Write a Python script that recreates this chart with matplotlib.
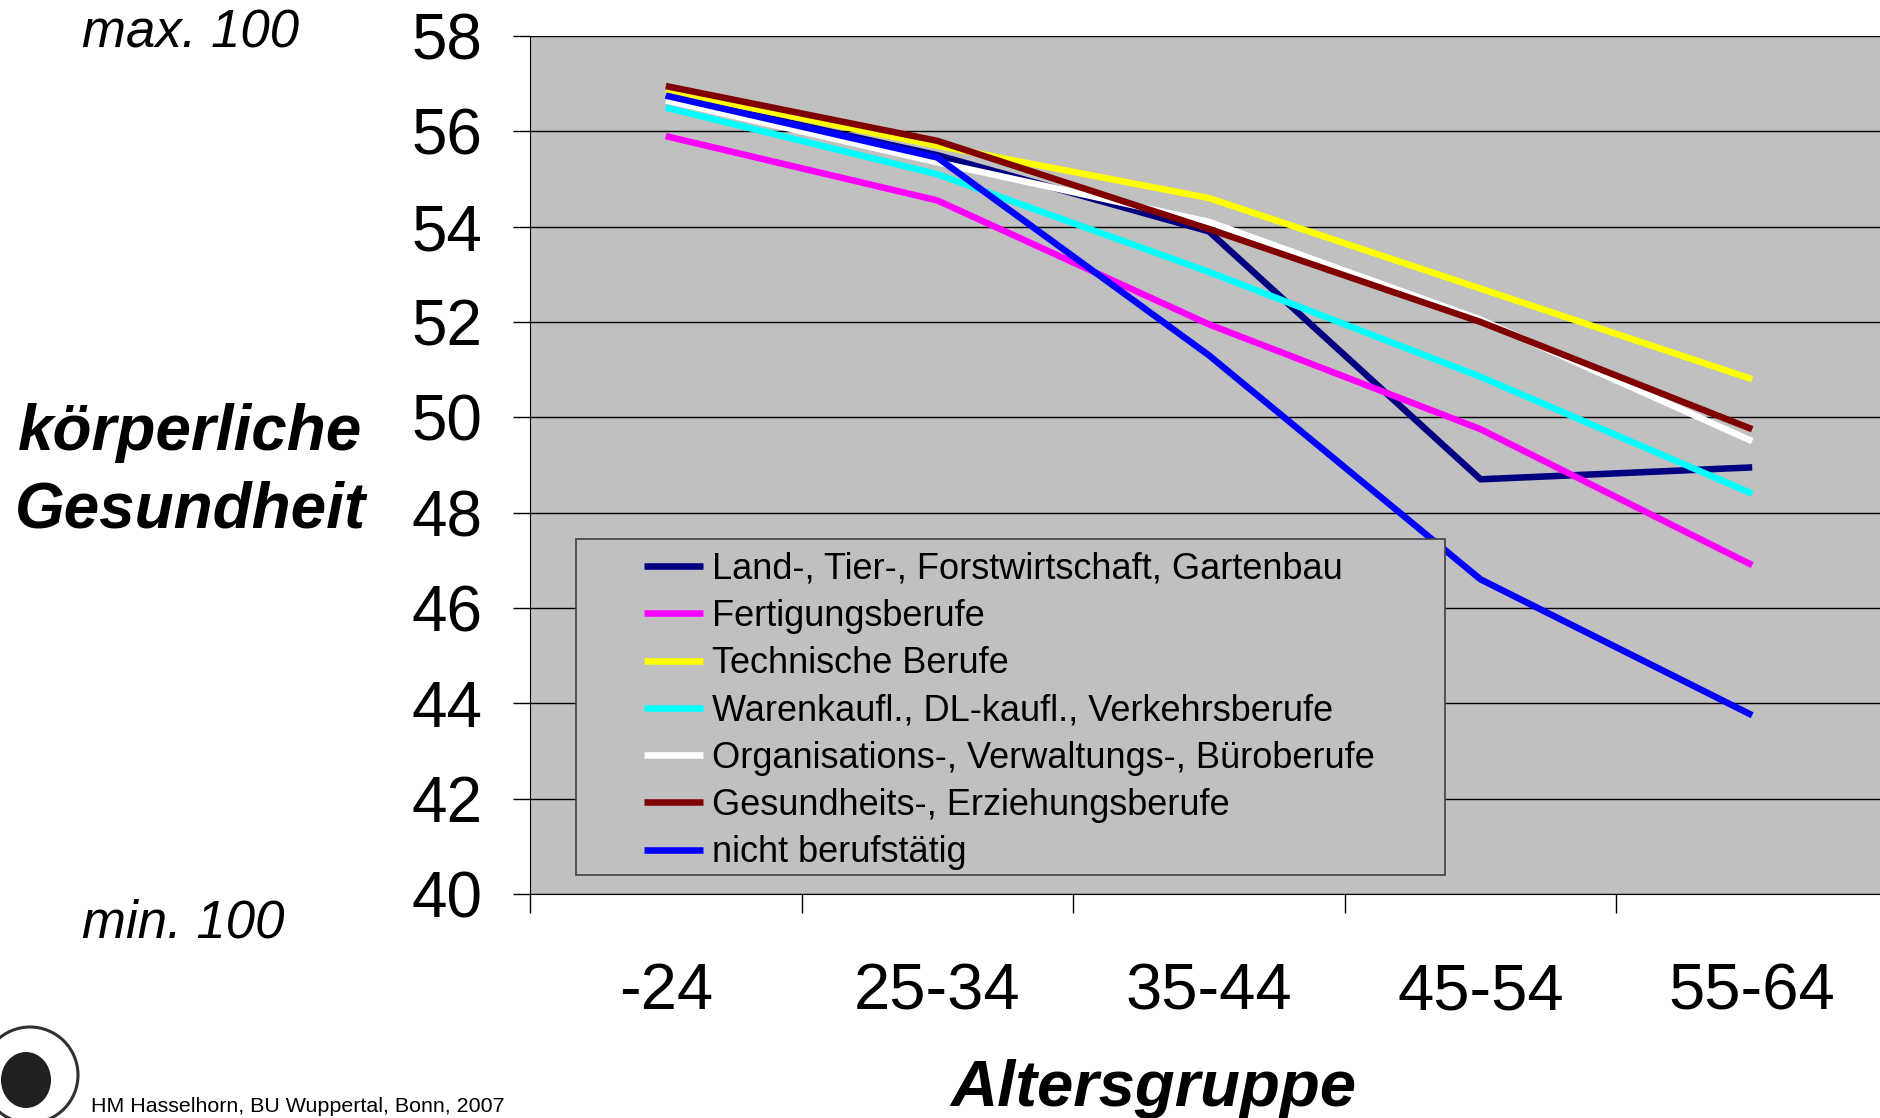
import numpy as np
from matplotlib import pyplot as plt
from matplotlib.patches import Rectangle, Circle, Ellipse

# Altersgruppen und Werte (koerperliche Gesundheit)
gruppen = ["-24", "25-34", "35-44", "45-54", "55-64"]

land = [56.75, 55.5, 53.9, 48.7, 48.95]
fertigung = [55.9, 54.55, 51.95, 49.75, 46.9]
technisch = [56.85, 55.7, 54.6, 52.7, 50.8]
waren = [56.5, 55.1, 53.05, 50.85, 48.4]
organisation = [56.65, 55.35, 54.1, 52.05, 49.5]
gesundheit = [56.95, 55.8, 53.95, 52.0, 49.75]
nicht = [56.75, 55.45, 51.3, 46.6, 43.75]

namen = ["Land-, Tier-, Forstwirtschaft, Gartenbau",
         "Fertigungsberufe",
         "Technische Berufe",
         "Warenkaufl., DL-kaufl., Verkehrsberufe",
         "Organisations-, Verwaltungs-, Büroberufe",
         "Gesundheits-, Erziehungsberufe",
         "nicht berufstätig"]
farben = ["#000080", "#FF00FF", "#FFFF00", "#00FFFF", "#FFFFFF", "#800000", "#0000FF"]

plt.rcParams['font.family'] = ['Liberation Sans', 'DejaVu Sans']

W, H = 1881, 1118


def fx(px):
    return px / W


def fy(py):
    return 1 - py / H


def main():
    fig = plt.figure(figsize=(18.81, 11.18), dpi=100)
    ax = fig.add_axes([fx(530), fy(894), 1358 / W, (894 - 36) / H])
    ax.set_facecolor("#C0C0C0")

    x = np.arange(len(gruppen)) + 0.5
    reihen = [land, fertigung, technisch, waren, organisation, gesundheit, nicht]
    for werte, name, farbe in zip(reihen, namen, farben):
        ax.plot(x, werte, color=farbe, lw=4.7, label=name, solid_capstyle="butt")

    ax.set_xlim(0, 5)
    ax.set_ylim(40, 58)
    ax.set_yticks(np.arange(40, 59, 2))
    ax.tick_params(axis="y", labelsize=46, length=12, width=1, pad=22)
    ax.yaxis.grid(True, color="black", lw=1)
    ax.set_axisbelow(True)

    ax.set_xticks(np.arange(0, 6))
    ax.set_xticklabels([])
    ax.set_xticks(x, minor=True)
    ax.set_xticklabels(gruppen, minor=True)
    ax.tick_params(axis="x", which="major", length=14, width=1)
    ax.tick_params(axis="x", which="minor", length=0, labelsize=47, pad=49)

    for s in ["top", "right"]:
        ax.spines[s].set_visible(False)

    # Legendenrahmen selbst zeichnen (breiter als die Legende)
    rahmen = Rectangle((fx(576), fy(875)), (1445 - 576) / W, (875 - 539) / H,
                       transform=fig.transFigure, facecolor="#C0C0C0",
                       edgecolor="#404040", lw=1.2, zorder=4)
    ax.add_artist(rahmen)
    leg = ax.legend(loc="upper left", bbox_to_anchor=(fx(631), fy(539)),
                    bbox_transform=fig.transFigure, borderaxespad=0,
                    prop={"size": 26}, frameon=False,
                    handlelength=1.65, handletextpad=0.23, labelspacing=0.34,
                    borderpad=0.35)
    leg.set_zorder(5)

    fig.text(fx(190), fy(433), "körperliche", fontsize=46, fontweight="bold",
             fontstyle="italic", ha="center", va="center")
    fig.text(fx(190), fy(510), "Gesundheit", fontsize=46, fontweight="bold",
             fontstyle="italic", ha="center", va="center")
    fig.text(fx(82), fy(33), "max. 100", fontsize=38, fontstyle="italic",
             ha="left", va="center")
    fig.text(fx(82), fy(923), "min. 100", fontsize=38, fontstyle="italic",
             ha="left", va="center")
    fig.text(fx(1153), fy(1089), "Altersgruppe", fontsize=47, fontweight="bold",
             fontstyle="italic", ha="center", va="center")
    fig.text(fx(91), fy(1106), "HM Hasselhorn, BU Wuppertal, Bonn, 2007",
             fontsize=15.4, ha="left", va="center")

    # Logo unten links, nur angedeutet
    logo = fig.add_axes([0, 0, fx(100), 1 - fy(100)])
    logo.set_xlim(0, 100)
    logo.set_ylim(0, 100)
    logo.set_aspect("equal")
    logo.axis("off")
    logo.add_patch(Circle((30, 43), 48, fill=False, edgecolor="#303030", lw=2.2))
    logo.add_patch(Ellipse((26, 38), 50, 56, facecolor="#202020", edgecolor="none"))

    fig.savefig("out.png", dpi=100)


if __name__ == "__main__":
    main()
